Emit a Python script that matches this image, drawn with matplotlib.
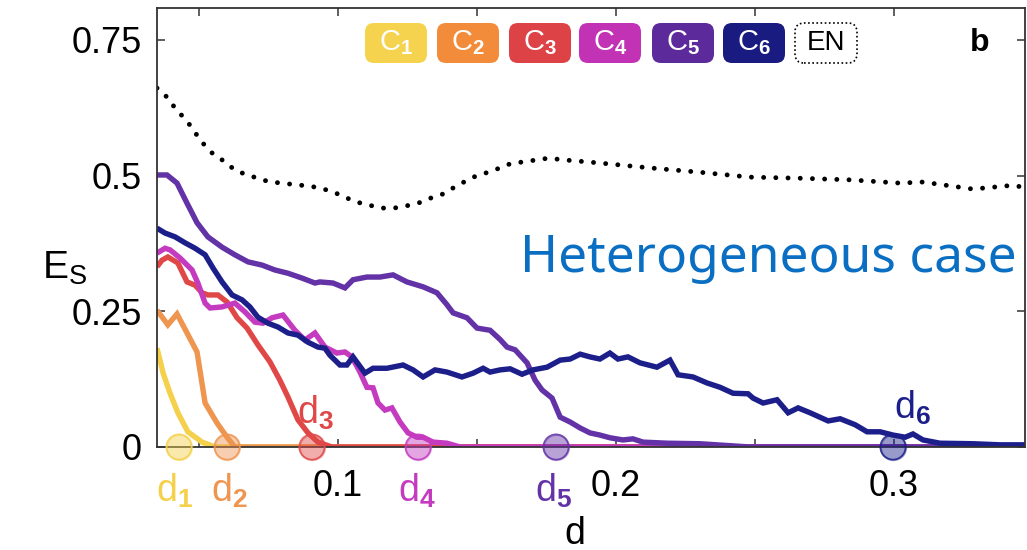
import matplotlib
matplotlib.use('Agg')
import matplotlib.pyplot as plt
from matplotlib.patches import FancyBboxPatch
from matplotlib.transforms import IdentityTransform

plt.rcParams['font.family'] = ['Liberation Sans', 'DejaVu Sans']
plt.rcParams['mathtext.fontset'] = 'custom'
plt.rcParams['mathtext.rm'] = 'Liberation Sans'
plt.rcParams['mathtext.bf'] = 'Liberation Sans:bold'

### Data: synchronization error E_S against dispersion d

c1_d = [0.0349, 0.0371, 0.0396, 0.0424, 0.0460, 0.0511, 0.0558, 0.35]
c1_E = [0.182, 0.136, 0.099, 0.063, 0.028, 0.009, 0.0, 0.0]

c2_d = [0.0349, 0.0388, 0.0421, 0.0457, 0.0493, 0.0522, 0.0565, 0.0601, 0.0629, 0.35]
c2_E = [0.252, 0.225, 0.245, 0.210, 0.175, 0.081, 0.044, 0.018, 0.0, 0.0]

c3_d = [0.0349, 0.0367, 0.0388, 0.0424, 0.0457, 0.0486, 0.0511, 0.0532, 0.0568, 0.0601,
        0.0637, 0.0673, 0.0712, 0.0755, 0.0791, 0.0820, 0.0856, 0.0892, 0.0928, 0.0978, 0.35]
c3_E = [0.332, 0.344, 0.350, 0.339, 0.304, 0.298, 0.284, 0.280, 0.280, 0.267,
        0.238, 0.219, 0.188, 0.157, 0.123, 0.092, 0.050, 0.026, 0.009, 0.0, 0.0]

c4_d = [0.0349, 0.0378, 0.0396, 0.0432, 0.0475, 0.0496, 0.0522, 0.0540, 0.0583, 0.0629,
        0.0665, 0.0701, 0.0730, 0.0763, 0.0802, 0.0845, 0.0881, 0.0917, 0.0953, 0.0996,
        0.1025, 0.1050, 0.1079, 0.1104, 0.1126, 0.1144, 0.1169, 0.1194, 0.1223, 0.1252,
        0.1284, 0.1306, 0.1342, 0.1392, 0.1439, 0.35]
c4_E = [0.357, 0.366, 0.363, 0.348, 0.326, 0.302, 0.265, 0.256, 0.258, 0.265,
        0.249, 0.230, 0.228, 0.238, 0.243, 0.215, 0.197, 0.210, 0.184, 0.173,
        0.175, 0.166, 0.138, 0.110, 0.109, 0.081, 0.068, 0.072, 0.046, 0.026,
        0.018, 0.018, 0.009, 0.007, 0.0, 0.0]

c5_d = [0.0349, 0.0385, 0.0421, 0.0457, 0.0493, 0.0532, 0.0583, 0.0629, 0.0676, 0.0727,
        0.0773, 0.0820, 0.0871, 0.0917, 0.0935, 0.0982, 0.1025, 0.1054, 0.1104, 0.1151,
        0.1198, 0.1248, 0.1306, 0.1356, 0.1392, 0.1414, 0.1464, 0.1500, 0.1547, 0.1583,
        0.1608, 0.1637, 0.1680, 0.1709, 0.1734, 0.1770, 0.1799, 0.1835, 0.1871, 0.1906,
        0.1942, 0.1978, 0.2025, 0.2061, 0.2097, 0.2183, 0.2302, 0.2482, 0.35]
c5_E = [0.501, 0.501, 0.486, 0.449, 0.413, 0.387, 0.368, 0.354, 0.341, 0.335,
        0.326, 0.320, 0.311, 0.302, 0.304, 0.302, 0.293, 0.308, 0.313, 0.313,
        0.317, 0.304, 0.295, 0.284, 0.262, 0.247, 0.238, 0.219, 0.215, 0.198,
        0.184, 0.179, 0.155, 0.123, 0.105, 0.090, 0.055, 0.046, 0.035, 0.026,
        0.022, 0.017, 0.013, 0.015, 0.009, 0.007, 0.006, 0.0, 0.0]

c6_d = [0.0349, 0.0378, 0.0414, 0.0450, 0.0486, 0.0522, 0.0550, 0.0583, 0.0619, 0.0655,
        0.0683, 0.0712, 0.0748, 0.0784, 0.0820, 0.0856, 0.0892, 0.0928, 0.0953, 0.0971,
        0.1007, 0.1032, 0.1054, 0.1097, 0.1126, 0.1176, 0.1234, 0.1270, 0.1306, 0.1349,
        0.1392, 0.1446, 0.1486, 0.1522, 0.1547, 0.1583, 0.1619, 0.1662, 0.1701, 0.1752,
        0.1799, 0.1835, 0.1871, 0.1906, 0.1942, 0.1978, 0.2007, 0.2043, 0.2086, 0.2147,
        0.2194, 0.2223, 0.2277, 0.2327, 0.2374, 0.2421, 0.2475, 0.2493, 0.2529, 0.2579,
        0.2619, 0.2655, 0.2698, 0.2763, 0.2806, 0.2860, 0.2903, 0.2950, 0.2996, 0.3040,
        0.3068, 0.3104, 0.3165, 0.3284, 0.3381, 0.3478]
c6_E = [0.403, 0.394, 0.387, 0.376, 0.366, 0.354, 0.330, 0.304, 0.280, 0.271,
        0.258, 0.239, 0.228, 0.221, 0.210, 0.206, 0.193, 0.184, 0.182, 0.169,
        0.151, 0.151, 0.166, 0.136, 0.145, 0.145, 0.151, 0.142, 0.129, 0.142,
        0.138, 0.129, 0.136, 0.145, 0.138, 0.142, 0.144, 0.134, 0.142, 0.147,
        0.160, 0.162, 0.171, 0.166, 0.162, 0.173, 0.162, 0.166, 0.155, 0.147,
        0.160, 0.133, 0.129, 0.118, 0.110, 0.099, 0.098, 0.090, 0.081, 0.087,
        0.063, 0.072, 0.063, 0.048, 0.052, 0.041, 0.028, 0.028, 0.022, 0.018,
        0.024, 0.013, 0.007, 0.006, 0.004, 0.004]

en_d = [0.0349, 0.0388, 0.0414, 0.0450, 0.0478, 0.0504, 0.0550, 0.0594, 0.0629, 0.0673,
        0.0712, 0.0755, 0.0802, 0.0845, 0.0892, 0.0935, 0.0982, 0.1025, 0.1068, 0.1108,
        0.1155, 0.1201, 0.1245, 0.1288, 0.1331, 0.1378, 0.1414, 0.1453, 0.1496, 0.1540,
        0.1583, 0.1626, 0.1669, 0.1716, 0.1759, 0.1806, 0.1853, 0.1942, 0.2122, 0.2302,
        0.2482, 0.2662, 0.2842, 0.3022, 0.3104, 0.3284, 0.3428, 0.3478]
en_E = [0.661, 0.643, 0.624, 0.604, 0.586, 0.565, 0.540, 0.525, 0.510, 0.501,
        0.495, 0.488, 0.486, 0.483, 0.481, 0.477, 0.470, 0.460, 0.451, 0.446,
        0.440, 0.440, 0.444, 0.449, 0.458, 0.466, 0.477, 0.488, 0.499, 0.506,
        0.514, 0.523, 0.525, 0.529, 0.532, 0.529, 0.527, 0.523, 0.514, 0.506,
        0.497, 0.495, 0.492, 0.486, 0.488, 0.475, 0.482, 0.477]

# critical dispersion of each community
d_crit = [0.0428, 0.0601, 0.0906, 0.1288, 0.1784, 0.2996]

colors = ['#F5D04A', '#EE9550', '#E04848', '#C43BC0', '#6232A6', '#1C1F8A']
badge_colors = ['#F5D34E', '#F28C3B', '#DD4247', '#C232B4', '#5D2A9C', '#1A1B80']
curves = [(c1_d, c1_E), (c2_d, c2_E), (c3_d, c3_E),
          (c4_d, c4_E), (c5_d, c5_E), (c6_d, c6_E)]

### Figure

W, H = 1027, 550
fig = plt.figure(figsize=(W / 100, H / 100), dpi=100)
ax = fig.add_axes([157 / W, (H - 447) / H, (1025 - 157) / W, (447 - 8) / H])

ax.plot(en_d, en_E, color='black', lw=3.5, linestyle=(0, (0.01, 2.5)),
        dash_capstyle='round')
for (xd, yE), col in zip(curves, colors):
    ax.plot(xd, yE, color=col, lw=3.9, solid_capstyle='butt', solid_joinstyle='miter')

ax.set_xlim(0.0349, 0.3471)
ax.set_ylim(0, 0.8085)

ax.set_xticks([0.05, 0.1, 0.15, 0.2, 0.25, 0.3])
ax.set_xticklabels(['', '0.1', '', '0.2', '', '0.3'])
ax.set_yticks([0, 0.25, 0.5, 0.75])
ax.set_yticklabels(['0', '0.25', '0.5', '0.75'])
ax.tick_params(direction='in', length=6, width=1.1, color='#333333',
               top=True, right=True, labelsize=26, pad=11)
ax.tick_params(axis='x', pad=16)
for s in ax.spines.values():
    s.set_color('#333333')
    s.set_linewidth(1.3)

# circles marking the critical dispersion on the axis
labels_pos = [(-0.072, 'top'), (-0.072, 'top'), (0.062, 'center'),
              (-0.072, 'top'), (-0.072, 'top'), (0.072, 'center')]
label_dx = [-0.0015, 0.0010, 0.0012, -0.0003, -0.0010, 0.0070]
for i, (dc, col) in enumerate(zip(d_crit, colors)):
    ax.scatter([dc], [0], s=330, facecolor=col, edgecolor=col, alpha=0.45,
               linewidth=1.5, zorder=5, clip_on=False)
    ax.scatter([dc], [0], s=330, facecolor='none', edgecolor=col, alpha=0.8,
               linewidth=1.2, zorder=6, clip_on=False)
    yy, va = labels_pos[i]
    ax.text(dc + label_dx[i], yy if va == 'center' else -0.045,
            r'$\mathrm{d}_{\mathbf{%d}}$' % (i + 1),
            color=col, fontsize=27, ha='center', va=va, clip_on=False)

ax.text(0.1853, -0.160, 'd', fontsize=27, ha='center', va='center',
        transform=ax.transData, clip_on=False)
fig.text(42 / W, 1 - 268 / H, r'$\mathrm{E}_\mathrm{S}$', fontsize=28,
         ha='left', va='center')
fig.text(980 / W, 1 - 43 / H, 'b', fontsize=23, fontweight='bold',
         ha='center', va='center')

ax.text(0.2547, 0.348, 'Heterogeneous case', color='#0A6FC2', fontsize=37,
        family=['Noto Sans', 'DejaVu Sans'], ha='center', va='center')

# badges naming the communities
badge_x = [365, 437, 509, 579, 652, 723]
bw, bh, by = 62, 40, 23
for i, (bx, bc) in enumerate(zip(badge_x, badge_colors)):
    p = FancyBboxPatch((bx, H - by - bh), bw, bh,
                       boxstyle='round,pad=0,rounding_size=9',
                       facecolor=bc, edgecolor='none', transform=IdentityTransform())
    fig.patches.append(p)
    fig.text((bx + bw / 2) / W, 1 - (by + bh / 2) / H,
             r'$\mathrm{C}_{\mathbf{%d}}$' % (i + 1), color='white', fontsize=21,
             ha='center', va='center')
p = FancyBboxPatch((795, H - by - bh), bw, bh,
                   boxstyle='round,pad=0,rounding_size=9',
                   facecolor='white', edgecolor='black', linewidth=1.2,
                   linestyle=(0, (1, 1.5)), transform=IdentityTransform())
fig.patches.append(p)
fig.text((795 + bw / 2) / W, 1 - (by + bh / 2) / H, 'EN', fontsize=20,
         ha='center', va='center')

fig.savefig('out.png', dpi=100)
